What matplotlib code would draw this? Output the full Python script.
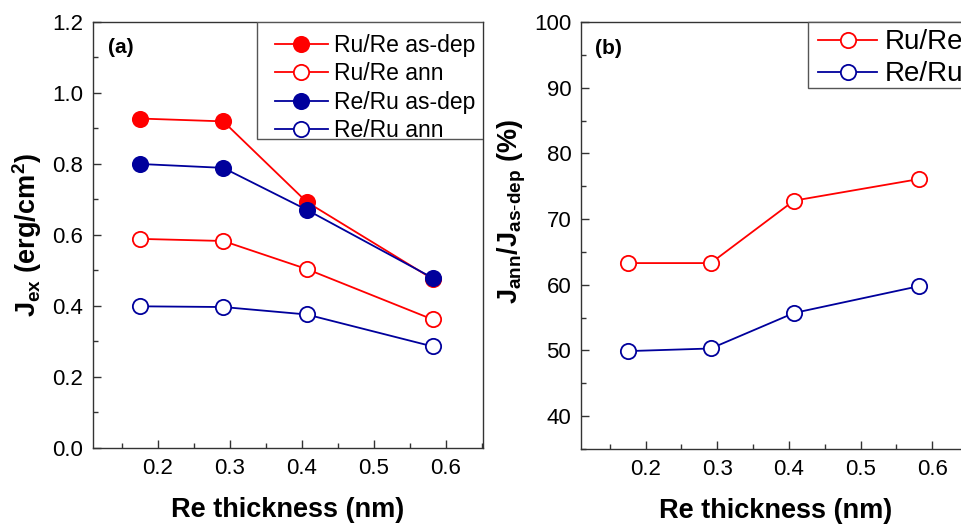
import matplotlib
matplotlib.use("Agg")
import matplotlib.pyplot as plt
from matplotlib.ticker import MultipleLocator, FormatStrFormatter
from matplotlib.patches import Rectangle

plt.rcParams['font.family'] = ['Liberation Sans', 'DejaVu Sans']
plt.rcParams['mathtext.fontset'] = 'custom'
plt.rcParams['mathtext.rm'] = 'Liberation Sans'
plt.rcParams['mathtext.bf'] = 'Liberation Sans:bold'
plt.rcParams['mathtext.it'] = 'Liberation Sans:italic'

# Data
thickness = [0.175, 0.291, 0.407, 0.582]
rure_asdep = [0.928, 0.920, 0.693, 0.476]
rure_ann = [0.589, 0.583, 0.504, 0.362]
reru_asdep = [0.800, 0.789, 0.671, 0.479]
reru_ann = [0.399, 0.397, 0.376, 0.286]
rure_ratio = [63.3, 63.3, 72.8, 76.1]
reru_ratio = [49.9, 50.3, 55.7, 59.8]

RED = '#FF0000'
BLUE = '#00009C'

fig = plt.figure(figsize=(9.61, 5.27), dpi=100)
ax1 = fig.add_axes([0.0968, 0.150, 0.4058, 0.8083])
ax2 = fig.add_axes([0.6046, 0.148, 0.4043, 0.8103])

ms = 11
lw = 1.3
mew = 1.3

ax1.plot(thickness, rure_asdep, '-o', color=RED, mfc=RED, mec=RED, ms=ms, lw=lw, mew=mew, label='Ru/Re as-dep')
ax1.plot(thickness, rure_ann, '-o', color=RED, mfc='white', mec=RED, ms=ms, lw=lw, mew=mew, label='Ru/Re ann')
ax1.plot(thickness, reru_asdep, '-o', color=BLUE, mfc=BLUE, mec=BLUE, ms=ms, lw=lw, mew=mew, label='Re/Ru as-dep')
ax1.plot(thickness, reru_ann, '-o', color=BLUE, mfc='white', mec=BLUE, ms=ms, lw=lw, mew=mew, label='Re/Ru ann')

ax2.plot(thickness, rure_ratio, '-o', color=RED, mfc='white', mec=RED, ms=ms, lw=lw, mew=mew, label='Ru/Re')
ax2.plot(thickness, reru_ratio, '-o', color=BLUE, mfc='white', mec=BLUE, ms=ms, lw=lw, mew=mew, label='Re/Ru')

ax1.set_xlim(0.11, 0.652)
ax1.set_ylim(0.0, 1.2)
ax2.set_xlim(0.11, 0.652)
ax2.set_ylim(35, 100)

ax1.yaxis.set_major_locator(MultipleLocator(0.2))
ax1.yaxis.set_minor_locator(MultipleLocator(0.1))
ax2.yaxis.set_major_locator(MultipleLocator(10))
ax2.yaxis.set_minor_locator(MultipleLocator(5))
for ax in (ax1, ax2):
    ax.xaxis.set_major_locator(MultipleLocator(0.1))
    ax.xaxis.set_minor_locator(MultipleLocator(0.05))
    ax.tick_params(which='both', direction='in', top=False, right=False, labelsize=16, color='#333333')
    ax.tick_params(which='major', length=6, width=1.0, pad=7)
    ax.tick_params(which='minor', length=3.5, width=1.0)
    for s in ax.spines.values():
        s.set_color('#333333')
        s.set_linewidth(1.0)
    ax.set_xlabel('Re thickness (nm)', fontsize=19.5, fontweight='bold', labelpad=13)
    ax.xaxis.set_major_formatter(FormatStrFormatter('%.1f'))

ax1.yaxis.set_major_formatter(FormatStrFormatter('%.1f'))
ax2.set_yticks([40, 50, 60, 70, 80, 90, 100])

ax1.set_ylabel(r'$\mathbf{J_{ex}}$ (erg/cm$\mathbf{^{2}}$)', fontsize=19.5, fontweight='bold', labelpad=6)
ax2.set_ylabel(r'$\mathbf{J_{ann}/J_{as\text{-}dep}}$ (%)', fontsize=19.5, fontweight='bold', labelpad=4)
ax2.yaxis.label.set_y(0.557)

ax1.text(0.038, 0.939, '(a)', transform=ax1.transAxes, fontsize=15, fontweight='bold', va='center')
ax2.text(0.036, 0.939, '(b)', transform=ax2.transAxes, fontsize=15, fontweight='bold', va='center')

# Legend frames drawn as rectangles (asymmetric padding as in the reference)
ax1.add_patch(Rectangle((0.4205, 0.725), 0.5795, 0.275, transform=ax1.transAxes, fill=True,
                        facecolor='white', edgecolor='#555555', lw=1.0, zorder=4))
leg1 = ax1.legend(loc='upper left', bbox_to_anchor=(0.4667, 0.972), fontsize=16.5, frameon=False,
                  borderaxespad=0.0, handlelength=2.3, handletextpad=0.28, labelspacing=0.24, borderpad=0.0)
leg1.set_zorder(5)

ax2.add_patch(Rectangle((0.585, 0.845), 0.6, 0.155, transform=ax2.transAxes, fill=True,
                        facecolor='white', edgecolor='#555555', lw=1.0, zorder=4, clip_on=False))
leg2 = ax2.legend(loc='upper left', bbox_to_anchor=(0.611, 0.983), fontsize=20, frameon=False,
                  borderaxespad=0.0, handlelength=2.1, handletextpad=0.3, labelspacing=0.22, borderpad=0.0)
leg2.set_zorder(5)

fig.savefig('out.png', dpi=100)
